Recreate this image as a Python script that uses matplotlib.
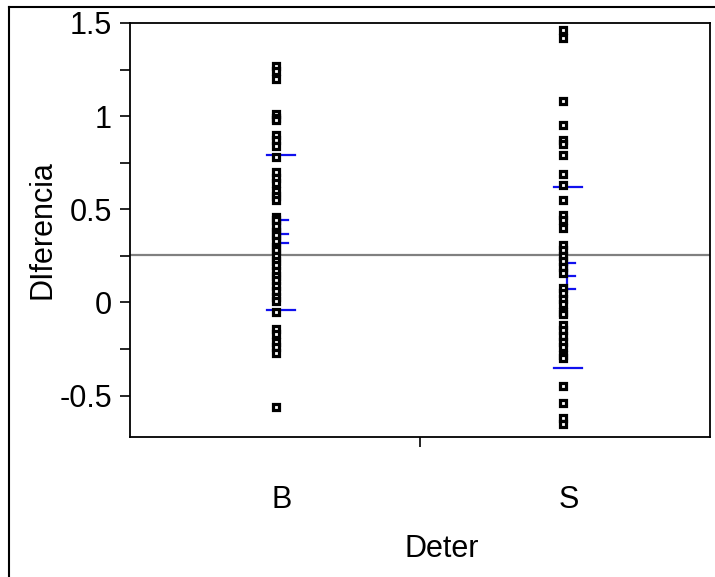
import matplotlib.pyplot as plt
from matplotlib.lines import Line2D

plt.rcParams['font.family'] = ['Liberation Sans', 'DejaVu Sans']

# Diferencia por grupo de Deter
grupos = ["B", "S"]
dif_b = [1.27, 1.24, 1.20, 1.01, 0.99, 0.98, 0.90, 0.87, 0.84, 0.78,
         0.70, 0.67, 0.64, 0.60, 0.57, 0.55, 0.46, 0.44, 0.41, 0.38,
         0.36, 0.33, 0.30, 0.28, 0.25, 0.22, 0.20, 0.17, 0.14, 0.12,
         0.09, 0.06, 0.03, 0.01, -0.05, -0.14, -0.17, -0.21, -0.24,
         -0.27, -0.56]
dif_s = [1.46, 1.42, 1.08, 0.95, 0.87, 0.85, 0.79, 0.69, 0.63, 0.55,
         0.47, 0.44, 0.40, 0.31, 0.28, 0.25, 0.22, 0.19, 0.16, 0.08,
         0.05, 0.02, -0.01, -0.05, -0.06, -0.12, -0.15, -0.18, -0.21,
         -0.24, -0.28, -0.30, -0.45, -0.54, -0.62, -0.65]

# lineas azules: cuantiles (largas) y media +- error (cortas)
cuant_b = [0.79, -0.04]
cuant_s = [0.62, -0.35]
media_b = [0.44, 0.37, 0.32]
media_s = [0.21, 0.14, 0.07]
media_global = 0.255

fig = plt.figure(figsize=(7.15, 5.77), dpi=100)
ax = fig.add_axes([130 / 715, 1 - 437 / 577, 580 / 715, 414 / 577])

ax.axhline(media_global, color="#808080", lw=1.6, zorder=1)

for x, cuant, media in [(1, cuant_b, media_b), (2, cuant_s, media_s)]:
    for v in cuant:
        ax.plot([x - 0.031, x + 0.066], [v, v], color="#1010ee", lw=1.6, zorder=2)
    for v in media:
        ax.plot([x + 0.010, x + 0.042], [v, v], color="#1010ee", lw=1.6, zorder=2)
    ax.plot([x + 0.012, x + 0.012], [media[2], media[0]], color="#1010ee", lw=1.6, zorder=2)

for x, vals in [(1, dif_b), (2, dif_s)]:
    ax.plot([x] * len(vals), vals, ls="none", marker="s", ms=4.0,
            mfc="white", mec="black", mew=2.3, zorder=3)

ax.set_xlim(0.491, 2.512)
ax.set_ylim(-0.722, 1.5)
ax.set_yticks([-0.5, 0, 0.5, 1, 1.5])
ax.set_yticklabels(["-0.5", "0", "0.5", "1", "1.5"])
ax.set_yticks([-0.25, 0.25, 0.75, 1.25], minor=True)
ax.set_xticks([1.5])
ax.set_xticklabels([""])
ax.tick_params(axis="y", which="both", length=7, width=1.2, labelsize=22, pad=6)
ax.tick_params(axis="x", length=7, width=1.2)
for s in ax.spines.values():
    s.set_linewidth(1.3)

for x, g in zip([1, 2], grupos):
    ax.text(x + 0.02, -1.06, g, ha="center", va="center", fontsize=22)

ax.set_ylabel("DIferencia", fontsize=22, labelpad=1)
fig.text(442 / 715, 1 - 549 / 577, "Deter", ha="center", va="center", fontsize=22)

# marco exterior (arriba e izquierda)
fig.add_artist(Line2D([9 / 715, 1], [1 - 7 / 577, 1 - 7 / 577], color="black", lw=1.5))
fig.add_artist(Line2D([9 / 715, 9 / 715], [0, 1 - 7 / 577], color="black", lw=1.5))

fig.savefig("out.png", dpi=100)
